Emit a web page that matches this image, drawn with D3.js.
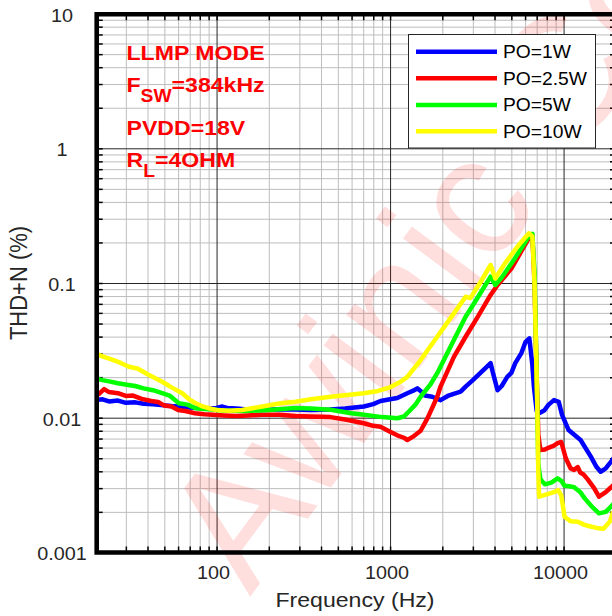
<!DOCTYPE html>
<html><head><meta charset="utf-8">
<script src="https://cdn.jsdelivr.net/npm/d3@7"></script>
<style>body{margin:0;background:#fff}svg{display:block}</style>
</head><body>
<svg id="c" width="612" height="616"></svg>
<script>
// ---------- DATA ----------
const seriesNames = ["PO=1W", "PO=2.5W", "PO=5W", "PO=10W"];
const seriesColors = ["#0000ff", "#ff0000", "#00ff00", "#ffff00"];

const po1W = [[20,0.0135],[22,0.0137],[24,0.0132],[27,0.0134],[30,0.0129],[34,0.0130],[38,0.0127],[43,0.0126],[48,0.0124],[55,0.0122],[62,0.0121],[70,0.0119],[78,0.0118],[90,0.0117],[100,0.0118],[108,0.0121],[115,0.0118],[130,0.0117],[150,0.0115],[180,0.0114],[220,0.0115],[285,0.0115],[350,0.0114],[450,0.0115],[550,0.0117],[706,0.0121],[800,0.0126],[881,0.0133],[1000,0.0137],[1100,0.0140],[1257,0.0152],[1350,0.0158],[1435,0.0165],[1500,0.0158],[1588,0.0146],[1750,0.0143],[1955,0.0135],[2150,0.0145],[2350,0.0151],[2551,0.0156],[2725,0.0170],[3000,0.0190],[3400,0.0222],[3797,0.0254],[3900,0.0220],[4163,0.0160],[4400,0.0172],[4735,0.0201],[5000,0.0215],[5265,0.0254],[5700,0.0300],[6040,0.0366],[6350,0.0388],[6600,0.0250],[6746,0.0170],[7000,0.0112],[7225,0.0108],[7730,0.0113],[8200,0.0125],[8800,0.0135],[9380,0.0131],[9800,0.0105],[10690,0.0081],[12530,0.00683],[14360,0.00514],[15500,0.0043],[16350,0.00397],[17500,0.0042],[19140,0.00487],[20000,0.0053]];

const po2p5W = [[20,0.0161],[21,0.0150],[22.5,0.0163],[24,0.0155],[27,0.0152],[30,0.0145],[33,0.0146],[37,0.0138],[42,0.0133],[46,0.0131],[50,0.0123],[55,0.0121],[60,0.0114],[66,0.0112],[75,0.0108],[85,0.0106],[95,0.0105],[110,0.0104],[130,0.0103],[150,0.0104],[180,0.0105],[230,0.0105],[285,0.0103],[350,0.0102],[454,0.0101],[550,0.0097],[706,0.0091],[800,0.0087],[881,0.00857],[1000,0.00787],[1100,0.0074],[1200,0.0071],[1257,0.00683],[1350,0.0072],[1500,0.0080],[1650,0.0100],[1870,0.0143],[1956,0.0171],[2333,0.0283],[2725,0.0399],[3200,0.0560],[3797,0.0815],[4163,0.0966],[5000,0.128],[6309,0.215],[6607,0.228],[6800,0.10],[7000,0.02],[7150,0.0075],[7350,0.00575],[7800,0.0058],[8240,0.0060],[8800,0.0062],[9240,0.00647],[9700,0.0066],[10300,0.0050],[10990,0.0042],[11500,0.0041],[12070,0.0043],[12500,0.0039],[13000,0.0038],[13740,0.0035],[15000,0.0030],[16000,0.00259],[17500,0.0028],[19140,0.00312],[20000,0.0033]];

const po5W = [[20,0.0196],[22,0.0190],[24,0.0186],[27,0.0180],[31,0.0175],[34,0.0172],[38,0.0165],[43,0.0160],[48.6,0.0152],[54,0.0145],[60.6,0.0128],[68,0.0125],[75.7,0.01175],[85,0.0116],[94.5,0.0115],[110,0.0113],[147,0.0112],[200,0.0114],[285,0.0118],[350,0.0117],[454,0.01145],[600,0.0108],[706,0.0105],[900,0.0101],[1101,0.0099],[1200,0.0102],[1257,0.0108],[1400,0.0125],[1500,0.0143],[1700,0.0175],[1870,0.0214],[2333,0.0378],[2725,0.0562],[3200,0.078],[3797,0.1115],[4040,0.0966],[4400,0.110],[5200,0.150],[6309,0.222],[6607,0.232],[6800,0.12],[7000,0.02],[7150,0.0045],[7350,0.0035],[7800,0.0032],[8500,0.0033],[9240,0.00355],[9700,0.0034],[10130,0.00312],[10800,0.0031],[11500,0.00305],[12500,0.0028],[13200,0.00253],[14500,0.0022],[16000,0.00195],[17500,0.0020],[19140,0.00225],[20000,0.0024]];

const po10W = [[20,0.0300],[22,0.0285],[25,0.0270],[28,0.0255],[31.2,0.0239],[35,0.0232],[40,0.0210],[48.6,0.0185],[55,0.0168],[63.4,0.0152],[70,0.0136],[75.7,0.0128],[82,0.0122],[90.4,0.01175],[100,0.0114],[117.8,0.01127],[140,0.0114],[183.5,0.0121],[233.9,0.0128],[285.5,0.01315],[350,0.0137],[454,0.0143],[550,0.0147],[706,0.0152],[850,0.0158],[1000,0.0168],[1150,0.0185],[1257,0.0201],[1500,0.0268],[1870,0.0399],[2333,0.0595],[2725,0.0791],[2900,0.0772],[3300,0.100],[3797,0.136],[4040,0.108],[4600,0.140],[5400,0.185],[6309,0.234],[6607,0.222],[6800,0.10],[7048,0.0135],[7150,0.004],[7225,0.00259],[8000,0.0027],[8800,0.0028],[9300,0.0029],[9700,0.00265],[10130,0.00184],[11000,0.0017],[12070,0.00169],[13200,0.0016],[14500,0.00155],[15500,0.00152],[17000,0.0015],[18500,0.0017],[19140,0.00195],[20000,0.0021]];

const seriesData = [po1W, po2p5W, po5W, po10W];

const xDomain = [20, 20000];
const yDomain = [0.001, 10];
const xMajorTicks = [100, 1000, 10000];
const xTickLabels = ["100", "1000", "10000"];
const yMajorTicks = [0.001, 0.01, 0.1, 1, 10];
const yTickLabels = ["0.001", "0.01", "0.1", "1", "10"];
const xTitle = "Frequency (Hz)";
const yTitle = "THD+N (%)";
const watermark = "Awinic Confidential";

// ---------- LAYOUT ----------
const FONT = "'Liberation Sans', Arial, Helvetica, sans-serif";
const SX = 1.1;
const L = 96.7, R = 616, T = 14.2, B = 552.5;
const x = d3.scaleLog().domain(xDomain).range([95.3, 615.8]);
const y = d3.scaleLog().domain(yDomain).range([552.4, 13.6]);

const minorX = [], minorY = [];
for (let e = 1; e <= 4; e++) for (let d = 2; d <= 9; d++) { const v = +(d * Math.pow(10, e)).toPrecision(6); if (v > 20 && v < 20000) minorX.push(v); }
for (let e = -3; e <= 0; e++) for (let d = 2; d <= 9; d++) { minorY.push(+(d * Math.pow(10, e)).toPrecision(6)); }
const majorX = xMajorTicks, majorYInner = [0.01, 0.1, 1];

const svg = d3.select("#c");
svg.append("rect").attr("width", 612).attr("height", 616).attr("fill", "#fff");

// grids
function grid(axis, tr, color, w) {
  const g = svg.append("g").attr("transform", tr).call(axis);
  g.select(".domain").remove();
  g.selectAll("line").attr("stroke", color).attr("stroke-width", w);
  g.selectAll("text").remove();
}
grid(d3.axisBottom(x).tickValues(minorX).tickSize(-(B - T)).tickFormat(""), `translate(0,${B})`, "#bdbdbd", 1);
grid(d3.axisLeft(y).tickValues(minorY).tickSize(-(R - L)).tickFormat(""), `translate(${L},0)`, "#bdbdbd", 1);
grid(d3.axisBottom(x).tickValues(majorX).tickSize(-(B - T)).tickFormat(""), `translate(0,${B})`, "#262626", 1);
grid(d3.axisLeft(y).tickValues(majorYInner).tickSize(-(R - L)).tickFormat(""), `translate(${L},0)`, "#262626", 1);

// frame ticks (inward)
const allX = minorX.concat(majorX), allY = minorY.concat(majorYInner);
grid(d3.axisBottom(x).tickValues(allX).tickSize(6).tickFormat(""), `translate(0,${T})`, "#000", 1.5);
grid(d3.axisTop(x).tickValues(allX).tickSize(6).tickFormat(""), `translate(0,${B})`, "#000", 1.5);
grid(d3.axisRight(y).tickValues(allY).tickSize(6).tickFormat(""), `translate(${L},0)`, "#000", 1.5);
grid(d3.axisLeft(y).tickValues(allY).tickSize(6).tickFormat(""), `translate(${R},0)`, "#000", 1.5);

// watermark
svg.append("text").text(watermark)
  .attr("transform", "translate(250,597) rotate(-53.5)")
  .attr("font-family", FONT).attr("font-size", 171)
  .attr("fill", "#ff0000").attr("fill-opacity", 0.13);

// curves
svg.append("clipPath").attr("id", "clip").append("rect")
  .attr("x", L).attr("y", T).attr("width", R - L).attr("height", B - T);
const line = d3.line().x(d => x(d[0])).y(d => y(d[1]));
const cg = svg.append("g").attr("clip-path", "url(#clip)");
seriesData.forEach((s, i) => {
  cg.append("path").attr("d", line(s)).attr("fill", "none")
    .attr("stroke", seriesColors[i]).attr("stroke-width", 4.5)
    .attr("stroke-linejoin", "round").attr("stroke-linecap", "round");
});

// frame
svg.append("path")
  .attr("d", `M${R + 2},${T} H${L} V${B} H${R + 2}`)
  .attr("fill", "none").attr("stroke", "#000").attr("stroke-width", 4.6)
  .attr("stroke-linejoin", "miter");

// helper for stretched text
function txt(px, py, str, size, anchor, opts = {}) {
  const t = svg.append("text")
    .attr("transform", `translate(${px},${py}) scale(${SX},1)`)
    .attr("font-family", FONT).attr("font-size", size)
    .attr("text-anchor", anchor).attr("fill", opts.fill || "#262626")
    .attr("font-weight", opts.weight || "normal");
  if (str !== null) t.text(str);
  return t;
}

// tick labels
yMajorTicks.forEach((v, i) => txt(62, y(v) + 8, yTickLabels[i], 18, "middle"));
xMajorTicks.forEach((v, i) => txt(x(v) - 3, 579, xTickLabels[i], 18, "middle"));

// axis titles
txt(355, 607, xTitle, 21, "middle");
svg.append("text").text(yTitle)
  .attr("transform", "translate(27,283) rotate(-90) scale(1,1.1)")
  .attr("font-family", FONT).attr("font-size", 22)
  .attr("text-anchor", "middle").attr("fill", "#262626");

// annotations
const red = { fill: "#ff0000", weight: "bold" };
txt(126.5, 60, "LLMP MODE", 21, "start", red);
const a2 = txt(126.5, 91.7, null, 21, "start", red);
a2.append("tspan").text("F");
a2.append("tspan").text("SW").attr("font-size", 17.5).attr("dy", 10);
a2.append("tspan").text("=384kHz").attr("font-size", 21).attr("dy", -10);
txt(126.5, 135, "PVDD=18V", 21, "start", red);
const a4 = txt(126.5, 166.7, null, 21, "start", red);
a4.append("tspan").text("R");
a4.append("tspan").text("L").attr("font-size", 17.5).attr("dy", 10);
a4.append("tspan").text("=4OHM").attr("font-size", 21).attr("dy", -10);

// legend
svg.append("rect").attr("x", 408.5).attr("y", 34.5).attr("width", 187).attr("height", 113.5)
  .attr("fill", "#fff").attr("stroke", "#262626").attr("stroke-width", 1);
const legY = [51.7, 78.3, 105, 131.3];
seriesNames.forEach((n, i) => {
  svg.append("line").attr("x1", 416).attr("x2", 497).attr("y1", legY[i]).attr("y2", legY[i])
    .attr("stroke", seriesColors[i]).attr("stroke-width", 4.5);
  txt(503, legY[i] + 6.3, n, 17.5, "start", { fill: "#000" });
});
</script>
</body></html>
